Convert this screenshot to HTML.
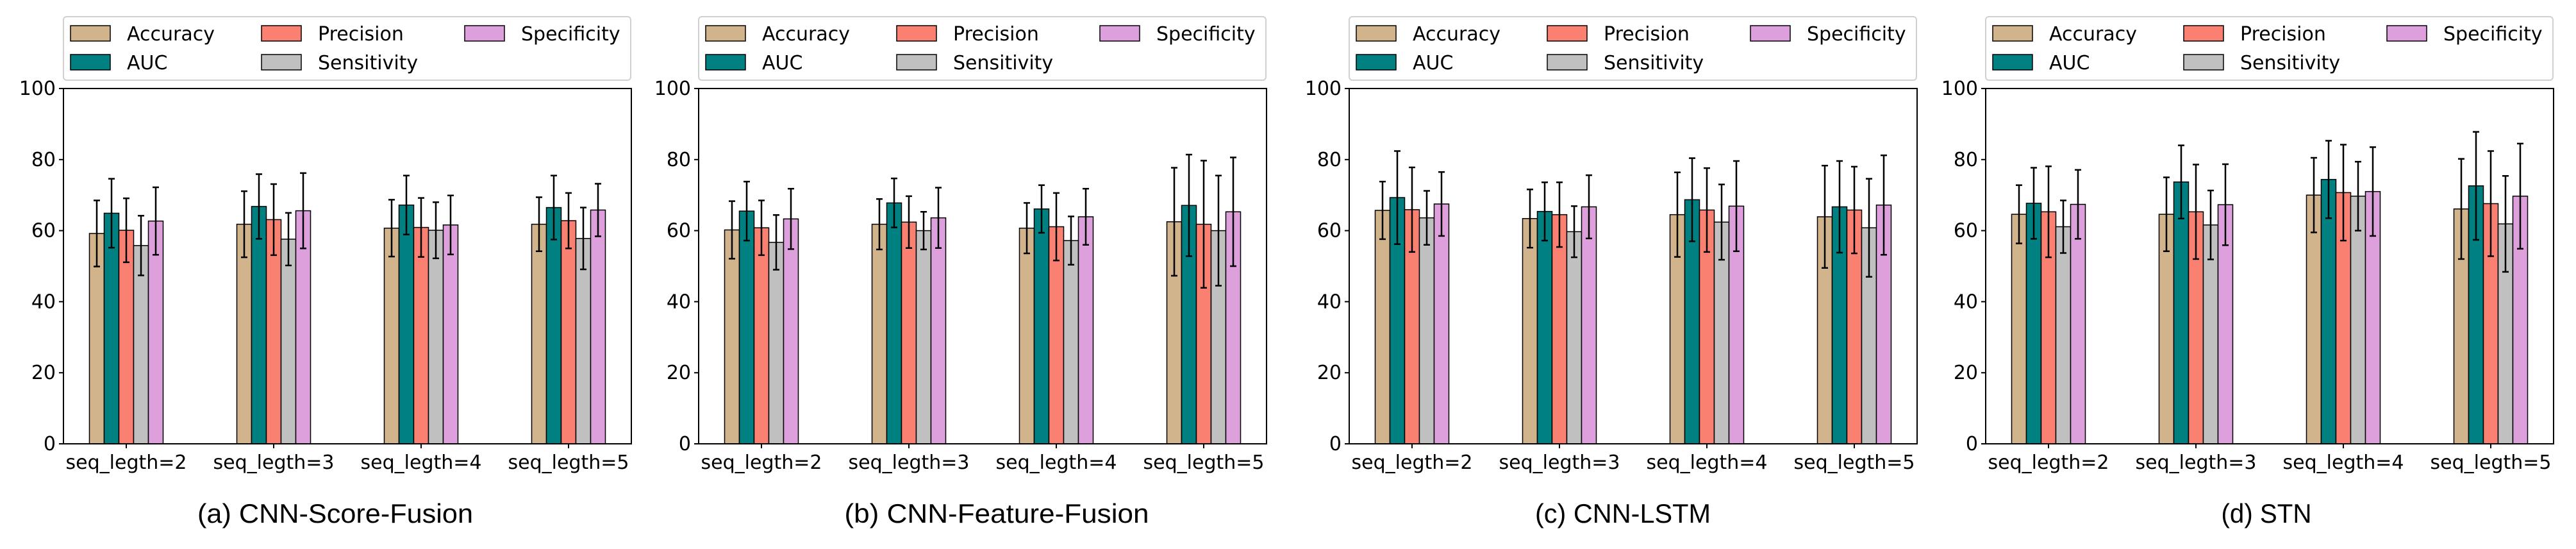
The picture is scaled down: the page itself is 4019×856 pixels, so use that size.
<!DOCTYPE html>
<html><head><meta charset="utf-8">
<style>
html,body{margin:0;padding:0;background:#fff;}
svg{display:block;font-family:"DejaVu Sans","Liberation Sans",sans-serif;}
</style></head>
<body>
<svg id="fig" width="4019" height="856" viewBox="0 0 4019 856" xmlns="http://www.w3.org/2000/svg"></svg>
<script>
const categories = ["seq_legth=2","seq_legth=3","seq_legth=4","seq_legth=5"];
const seriesNames = ["Accuracy","AUC","Precision","Sensitivity","Specificity"];
const yTicks = [0,20,40,60,80,100];
const panelTitles = ["(a) CNN-Score-Fusion","(b) CNN-Feature-Fusion","(c) CNN-LSTM","(d) STN"];
// values[panel][series][category]
const valuesA = [[59.2,61.8,60.7,61.8],[64.9,66.8,67.2,66.5],[60.1,63.1,60.9,62.8],[55.8,57.6,60.1,57.8],[62.7,65.6,61.6,65.8]];
const errorsA = [[9.3,9.3,8.0,7.6],[9.7,9.1,8.3,9.0],[9.0,10.0,8.3,7.8],[8.4,7.4,7.9,8.7],[9.5,10.6,8.3,7.4]];
const valuesB = [[60.2,61.8,60.7,62.5],[65.5,67.8,66.1,67.1],[60.8,62.4,61.1,61.8],[56.7,60.0,57.2,60.0],[63.3,63.6,63.9,65.3]];
const errorsB = [[8.1,7.1,7.1,15.2],[8.3,6.9,6.7,14.3],[7.7,7.3,9.5,17.9],[7.7,5.3,6.8,15.5],[8.5,8.5,7.9,15.3]];
const valuesC = [[65.7,63.4,64.5,63.9],[69.3,65.4,68.7,66.7],[65.9,64.5,65.8,65.8],[63.6,59.7,62.4,60.8],[67.5,66.7,66.9,67.2]];
const errorsC = [[8.1,8.2,11.9,14.4],[13.1,8.2,11.7,12.9],[11.9,9.1,11.8,12.2],[7.6,7.2,10.6,13.8],[9.0,8.9,12.7,14.0]];
const valuesD = [[64.6,64.6,70.0,66.1],[67.7,73.7,74.4,72.6],[65.3,65.3,70.7,67.6],[61.1,61.6,69.7,61.9],[67.4,67.3,71.0,69.7]];
const errorsD = [[8.2,10.4,10.5,14.1],[10.0,10.3,10.9,15.2],[12.8,13.3,13.5,14.8],[7.4,9.7,9.7,13.5],[9.7,11.4,12.5,14.8]];
const allValues = [valuesA,valuesB,valuesC,valuesD];
const allErrors = [errorsA,errorsB,errorsC,errorsD];

const colors = ["#D2B48C","#008080","#FA8072","#C0C0C0","#DDA0DD"];
const panelLeft = [99,1090,2105,3098];
const titleCx = [523,1555,2532,3536];
const titleW = [430,475,274,141];
const axW = 886, axTop = 138, axBot = 692;
const NS = "http://www.w3.org/2000/svg";
const svg = document.getElementById("fig");
function mk(tag, attrs, parent){const e=document.createElementNS(NS,tag);for(const k in attrs)e.setAttribute(k,attrs[k]);(parent||svg).appendChild(e);return e;}
function yScale(v){return axBot-(v/100)*(axBot-axTop);}

panelTitles.forEach((t,p)=>{
  const L = panelLeft[p];
  const g = mk("g",{});
  
  
  function xScale(ci){return L+98+ci*230;}
  const bw = 23;
  // bars
  allValues[p].forEach((ser,si)=>{
    ser.forEach((v,ci)=>{
      const cx = xScale(ci)+(si-2)*bw;
      const r = mk("rect",{x:cx-bw/2,y:yScale(v),width:bw,height:axBot-yScale(v),fill:colors[si],stroke:"#000","stroke-width":1.5},g);
      
      
    });
  });
  // error bars
  allValues[p].forEach((ser,si)=>{
    ser.forEach((v,ci)=>{
      const e = allErrors[p][si][ci];
      const cx = xScale(ci)+(si-2)*bw;
      const eg = mk("g",{stroke:"#000","stroke-width":2.5},g);
      
      
      mk("line",{x1:cx,x2:cx,y1:yScale(v+e),y2:yScale(v-e)},eg);
      mk("line",{x1:cx-5,x2:cx+5,y1:yScale(v+e),y2:yScale(v+e)},eg);
      mk("line",{x1:cx-5,x2:cx+5,y1:yScale(v-e),y2:yScale(v-e)},eg);
    });
  });
  // frame
  const fr = mk("rect",{x:L,y:axTop,width:axW,height:axBot-axTop,fill:"none",stroke:"#000","stroke-width":2},g);
  
  
  // y ticks
  yTicks.forEach(t=>{
    const y=yScale(t);
    mk("line",{x1:L-7,x2:L,y1:y,y2:y,stroke:"#000","stroke-width":2},g);
    const tx = mk("text",{x:L-12,y:y+10,"text-anchor":"end","font-size":30,fill:"#000"},g);
    tx.textContent=t;
    
    
  });
  // x ticks
  categories.forEach((c,ci)=>{
    const x=xScale(ci);
    mk("line",{x1:x,x2:x,y1:axBot,y2:axBot+7,stroke:"#000","stroke-width":2},g);
    const tx = mk("text",{x:x,y:731,"text-anchor":"middle","font-size":30,fill:"#000"},g);
    tx.textContent=c;
    
    
  });
  // legend
  const lg = mk("g",{},g);
  
  
  mk("rect",{x:L,y:26,width:axW-1,height:99,rx:5,fill:"#fff",stroke:"#d0d0d0","stroke-width":2},lg);
  const pos = [[11,52],[11,97],[309,52],[309,97],[626,52]];
  seriesNames.forEach((n,si)=>{
    const [dx,cy]=pos[si];
    const le = mk("g",{},lg);
    
    
    mk("rect",{x:L+dx,y:cy-12,width:62,height:24,fill:colors[si],stroke:"#000","stroke-width":1.5},le);
    const tx=mk("text",{x:L+dx+88,y:cy+11,"font-size":30,fill:"#000"},le);
    tx.textContent=n;
  });
  // title
  const tt = mk("text",{x:titleCx[p],y:815,"text-anchor":"middle","font-size":42,fill:"#000",textLength:titleW[p],lengthAdjust:"spacingAndGlyphs","font-family":"Liberation Sans, sans-serif"},g);
  tt.textContent=t;
  
  
});
</script>
</body></html>
